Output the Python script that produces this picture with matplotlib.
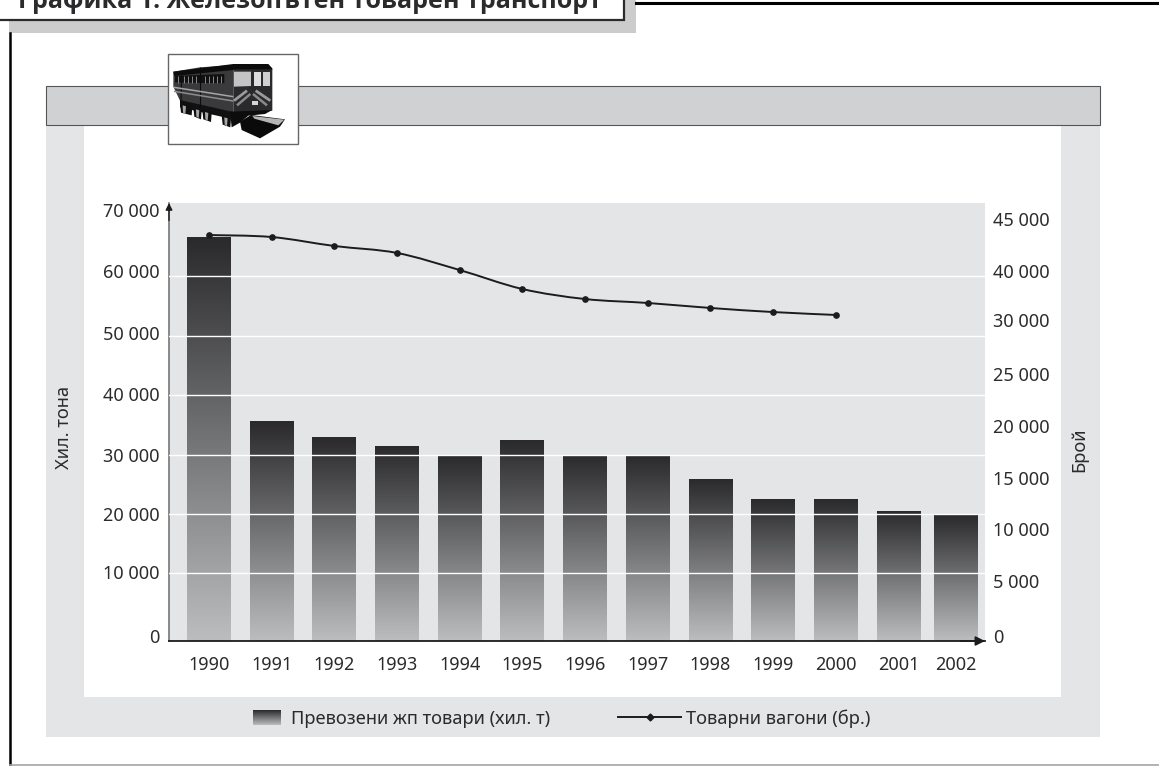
#!/usr/bin/env python3
import matplotlib
matplotlib.use('Agg')
import matplotlib.pyplot as plt
import numpy as np
from matplotlib.patches import Rectangle, Polygon, PathPatch
from matplotlib.path import Path
from matplotlib.transforms import ScaledTranslation

plt.rcParams['font.family'] = ['Noto Sans', 'DejaVu Sans']

W, H = 1159, 766

# Data
years = ['1990', '1991', '1992', '1993', '1994', '1995', '1996', '1997',
         '1998', '1999', '2000', '2001', '2002']
freight = [66500, 35600, 32900, 31400, 29900, 32400, 30000, 29900,
           25900, 22500, 22500, 20500, 19800]
wagons = [38480, 38290, 37430, 36760, 35120, 33300, 32340, 31960, 31480, 31090, 30810]

left_ticks = [0, 10000, 20000, 30000, 40000, 50000, 60000, 70000]
left_labels = ['0', '10 000', '20 000', '30 000', '40 000', '50 000', '60 000', '70 000']
# evenly spaced in the source, which has no 35 000: 30 000 is followed by 40 000
right_ticks = [0, 5000, 10000, 15000, 20000, 25000, 30000, 35000, 40000]
right_labels = ['0', '5 000', '10 000', '15 000', '20 000', '25 000', '30 000', '40 000', '45 000']

TITLE = 'Графика 1. Железопътен товарен транспорт'
PANEL = '#e4e5e7'
BAND = '#d0d1d3'
INK = '#2b2b2d'

fig = plt.figure(figsize=(W / 100, H / 100), dpi=100, facecolor='white')

# page furniture, in pixel coordinates
bg = fig.add_axes([0, 0, 1, 1], zorder=0)
bg.set_xlim(0, W)
bg.set_ylim(H, 0)
bg.axis('off')

bg.add_patch(Rectangle((9, -5), 627, 38, fc='#cccccc', ec='none'))
bg.add_patch(Rectangle((-3, -6), 627, 26, fc='white', ec=INK, lw=1.6))
bg.text(18, 8, TITLE, fontsize=18, fontweight='bold', color=INK, va='baseline',
        family=['Open Sans', 'DejaVu Sans'])
bg.plot([636, W], [3, 3], color='black', lw=2.2)
bg.plot([10, 10], [33, 765], color='black', lw=1.8)
bg.plot([10, W], [765, 765], color='#a5a5a5', lw=1.2)

bg.add_patch(Rectangle((46, 86), 1054, 651, fc=PANEL, ec='none'))
bg.add_patch(Rectangle((84, 125), 977, 572, fc='white', ec='none'))
bg.add_patch(Rectangle((46, 86), 1054, 39, fc=BAND, ec='#555555', lw=0.8))

# train icon
bg.add_patch(Rectangle((168, 54), 130, 90, fc='white', ec='#666666', lw=1, zorder=3))


def train(points, color):
    pts = [(165 + a / 3, 50 + b / 3) for a, b in points]
    bg.add_patch(Polygon(pts, closed=True, fc=color, ec='none', zorder=4))


def train_line(points, color, lw=1.0):
    xs = [165 + a / 3 for a, b in points]
    ys = [50 + b / 3 for a, b in points]
    bg.plot(xs, ys, color=color, lw=lw, zorder=5, solid_capstyle='butt')


train([(25, 65), (105, 52), (205, 45), (205, 188), (110, 168), (45, 152), (25, 110)], '#3a3a3c')
train([(25, 65), (205, 42), (310, 42), (322, 55), (322, 60), (205, 60), (28, 78)], '#0c0c0c')
train([(205, 58), (322, 58), (322, 182), (205, 188)], '#2a2a2c')
train([(207, 65), (258, 65), (258, 108), (207, 110)], '#c4c4c4')
train([(268, 65), (288, 65), (288, 108), (268, 108)], '#dedede')
train([(295, 65), (316, 65), (316, 108), (295, 108)], '#cfcfcf')
train([(30, 78), (178, 72), (178, 100), (30, 97)], '#101010')
for wx in [38, 48, 58, 70, 80, 92, 120, 132, 144, 156, 168]:
    train_line([(wx, 78), (wx, 98)], '#8a8a8a', 0.7)
train_line([(105, 52), (105, 172)], '#0c0c0c', 0.8)
train_line([(50, 62), (48, 154)], '#0c0c0c', 0.8)
train_line([(27, 112), (205, 140)], '#a5a5a5', 1.1)
train_line([(27, 124), (205, 153)], '#8c8c8c', 1.1)
train_line([(207, 152), (246, 122)], '#9a9a9a', 2.0)
train_line([(316, 152), (272, 122)], '#9a9a9a', 2.0)
train_line([(216, 166), (256, 132)], '#8a8a8a', 1.8)
train_line([(306, 166), (264, 132)], '#8a8a8a', 1.8)
train([(262, 153), (280, 153), (280, 165), (262, 165)], '#d5d5d5')
train([(45, 150), (205, 186), (205, 208), (45, 172)], '#111111')
train([(195, 185), (322, 180), (300, 192), (250, 197), (225, 218), (200, 232)], '#0c0c0c')
for a, b, c in [(45, 82, 160), (85, 110, 172), (112, 140, 180), (170, 198, 196)]:
    train([(a, c), (b, c + 8), (b - 2, c + 36), (a + 3, c + 28)], '#0f0f0f')
    train([(a + 8, c + 6), (a + 18, c + 9), (a + 16, c + 32), (a + 9, c + 28)], '#a8a8a8')
train([(225, 215), (258, 195), (360, 208), (345, 230), (285, 265), (230, 240)], '#0a0a0a')
train([(262, 198), (358, 209), (340, 226), (268, 206)], '#b5b5b5')

# legend, built by hand because of the gradient swatch
ramp = np.linspace(0, 1, 256).reshape(-1, 1)
grad = matplotlib.colors.LinearSegmentedColormap.from_list('bars', ['#2a2a2c', '#bcbdbf'])
bg.imshow(ramp, cmap=grad, extent=[253, 281, 725, 710], aspect='auto', zorder=3)
bg.set_xlim(0, W)
bg.set_ylim(H, 0)
bg.text(291, 719, 'Превозени жп товари (хил. т)', fontsize=13.2, color=INK, va='center')
bg.plot([618, 681], [717, 717], color='#1c1c1c', lw=1.4, zorder=4)
bg.plot([650], [717], marker='D', ms=3.5, color='#1c1c1c', zorder=4)
bg.text(686, 719, 'Товарни вагони (бр.)', fontsize=13.2, color=INK, va='center')

bg.text(64, 427, 'Хил. тона', fontsize=13.2, color=INK, rotation=90, ha='center', va='center')
bg.text(1079, 450, 'Брой', fontsize=13.2, color=INK, rotation=90, ha='center', va='center')

# chart axes: plot area 169-985 x, 203-641 y in pixels
ax = fig.add_axes([169 / W, 1 - 641 / H, (985 - 169) / W, (641 - 203) / H], zorder=1)
ax.set_facecolor(PANEL)
Y_BOTTOM, Y_TOP = -1345, 72270
x = np.arange(len(years), dtype=float)
x[-1] = 11.91  # last column sits closer in the source
bar_w = 0.70

bars = ax.bar(x, np.array(freight) - Y_BOTTOM, width=bar_w, bottom=Y_BOTTOM,
              color='#707070', zorder=1)
for bar in bars:
    x0 = bar.get_x()
    y1 = bar.get_y() + bar.get_height()
    im = ax.imshow(ramp, cmap=grad, aspect='auto', zorder=1.5,
                   extent=[x0, x0 + bar.get_width(), Y_BOTTOM, y1])
    im.set_clip_path(bar)

ax.set_xlim(-0.638, 12.38)
ax.set_ylim(Y_BOTTOM, Y_TOP)
ax.set_yticks(left_ticks)
ax.set_yticklabels(left_labels, fontsize=13, color=INK)
ax.set_xticks(x)
ax.set_xticklabels(years, fontsize=13, color=INK)
ax.tick_params(axis='y', length=0, pad=6.5)
ax.tick_params(axis='x', length=0, pad=11)
ax.set_axisbelow(False)
ax.grid(axis='y', color='white', lw=1.0)
ax.xaxis.grid(False)
for i in (0, len(left_ticks) - 1):
    ax.yaxis.get_gridlines()[i].set_visible(False)
for name in ('top', 'right'):
    ax.spines[name].set_visible(False)
ax.spines['left'].set_color('#777777')
ax.spines['left'].set_linewidth(1.2)
ax.spines['bottom'].set_color('#1c1c1c')
ax.spines['bottom'].set_linewidth(1.3)


def nudge(label, dx, dy):
    # shift a tick label by pixels, the source labels do not sit on their ticks
    label.set_transform(label.get_transform()
                        + ScaledTranslation(dx / 100, -dy / 100, fig.dpi_scale_trans))


for label, dy in zip(ax.get_yticklabels(), [3, -1, 0, 0, -1, -3, -5, -7]):
    nudge(label, 0, dy)

# secondary axis for wagons
ax2 = ax.twinx()
ax2.set_zorder(2)
ax2.patch.set_visible(False)
ax2.set_ylim(-480, 41555)
ax2.set_yticks(right_ticks)
ax2.set_yticklabels(right_labels, fontsize=13, color=INK)
ax2.tick_params(axis='y', length=0, pad=6)
for spine in ax2.spines.values():
    spine.set_visible(False)
for label, dy in zip(ax2.get_yticklabels(), [0, -3, -3, -2, -2, -2, -3, 0, 0]):
    nudge(label, 0, dy)

# smooth line through the points, as the spreadsheet drew it
px = x[:len(wagons)]
py = np.array(wagons, dtype=float)
verts = [(px[0], py[0])]
codes = [Path.MOVETO]
for i in range(len(px) - 1):
    a = max(i - 1, 0)
    b = min(i + 2, len(px) - 1)
    verts.append((px[i] + (px[i + 1] - px[a]) / 6, py[i] + (py[i + 1] - py[a]) / 6))
    verts.append((px[i + 1] - (px[b] - px[i]) / 6, py[i + 1] - (py[b] - py[i]) / 6))
    verts.append((px[i + 1], py[i + 1]))
    codes += [Path.CURVE4] * 3
ax2.add_patch(PathPatch(Path(verts, codes), fc='none', ec='#1c1c1c', lw=1.4, zorder=4))
ax2.plot(px, py, ls='none', marker='o', ms=3.8, color='#1c1c1c', zorder=5)

# axis arrows
ax2.annotate('', xy=(1.0, 0), xytext=(0.97, 0), xycoords='axes fraction',
             arrowprops=dict(arrowstyle='-|>', color='#1c1c1c', lw=1.2, shrinkA=0, shrinkB=0,
                             mutation_scale=14))
ax2.annotate('', xy=(0, 1.0), xytext=(0, 0.96), xycoords='axes fraction',
             arrowprops=dict(arrowstyle='-|>', color='#1c1c1c', lw=1.0, shrinkA=0, shrinkB=0,
                             mutation_scale=10))

fig.savefig('out.png', dpi=100)
